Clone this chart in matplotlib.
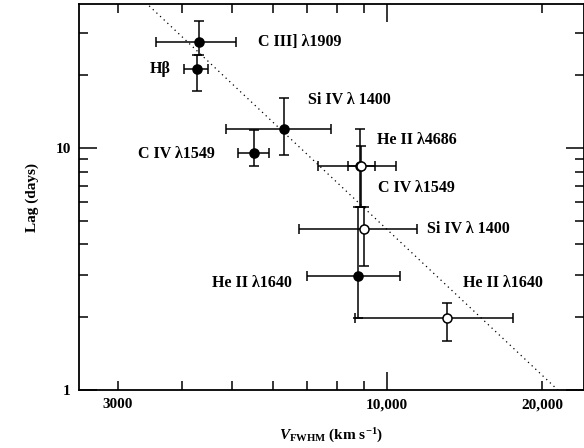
import matplotlib
matplotlib.use("Agg")
import matplotlib.pyplot as plt
from matplotlib.ticker import FixedLocator, NullFormatter, FixedFormatter

plt.rcParams['font.family'] = 'Liberation Serif'
plt.rcParams['font.weight'] = 'bold'
plt.rcParams['axes.labelweight'] = 'bold'
plt.rcParams['mathtext.fontset'] = 'custom'
plt.rcParams['mathtext.rm'] = 'Liberation Serif:bold'
plt.rcParams['mathtext.it'] = 'Liberation Serif:italic:bold'

# line name, FWHM velocity (km/s) and lag (days), with error bar ends
names = ["C III] λ1909", "Hβ", "Si IV λ1400", "C IV λ1549", "He II λ4686",
         "C IV λ1549", "Si IV λ1400", "He II λ1640", "He II λ1640"]
vel = [4314, 4261, 6313, 5516, 8870, 8906, 9025, 8790, 13090]
vel_lo = [3557, 4024, 4863, 5137, 7349, 8408, 6747, 6996, 8675]
vel_hi = [5094, 4478, 7790, 5902, 10390, 9487, 11400, 10578, 17565]
lag = [27.4, 21.2, 12.0, 9.53, 8.43, 8.43, 4.63, 2.96, 1.98]
lag_lo = [24.2, 17.2, 9.35, 8.43, 5.71, 5.71, 3.25, 1.98, 1.59]
lag_hi = [33.5, 24.2, 16.1, 11.9, 11.98, 10.2, 5.71, 5.71, 2.29]
is_open = [False, False, False, False, False, True, True, False, True]

# V^-2 reference line
line_v = [2500, 25000]
line_norm = 21450.0

fig = plt.figure(figsize=(5.84, 4.48), dpi=100)
ax = fig.add_axes([79 / 584, 1 - 390 / 448, 504.5 / 584, 386 / 448])

ax.plot(line_v, [(line_norm / v) ** 2 for v in line_v], color='black',
        linestyle=(0, (1, 3)), lw=0.9, zorder=1)

for i in range(len(vel)):
    xerr = [[vel[i] - vel_lo[i]], [vel_hi[i] - vel[i]]]
    yerr = [[lag[i] - lag_lo[i]], [lag_hi[i] - lag[i]]]
    face = 'white' if is_open[i] else 'black'
    ax.errorbar([vel[i]], [lag[i]], xerr=xerr, yerr=yerr, fmt='o', ms=6.5,
                mfc=face, mec='black', mew=1.1, ecolor='black', elinewidth=1.1,
                capsize=3.5, capthick=1.1, zorder=3 if is_open[i] else 2)

# labels placed next to the points
label_pos = [(258, 42), (150, 69), (308, 100), (138, 154), (377, 140),
             (378, 188), (427, 229), (212, 283), (463, 283)]
label_text = ["C III] λ1909", "Hβ", "Si IV λ 1400", "C IV λ1549", "He II λ4686",
              "C IV λ1549", "Si IV λ 1400", "He II λ1640", "He II λ1640"]
for (px, py), t in zip(label_pos, label_text):
    fig.text(px / 584, 1 - py / 448, t, fontsize=11.5, fontweight='bold',
             ha='left', va='center')

ax.set_xscale('log')
ax.set_yscale('log')
ax.set_xlim(2519, 24060)
ax.set_ylim(1, 39.4)

xmajor = [10000]
xminor = [3000, 4000, 5000, 6000, 7000, 8000, 9000, 20000]
ax.xaxis.set_major_locator(FixedLocator(xmajor))
ax.xaxis.set_major_formatter(FixedFormatter(["10,000"]))
ax.xaxis.set_minor_locator(FixedLocator(xminor))
ax.xaxis.set_minor_formatter(FixedFormatter(["3000", "", "", "", "", "", "", "20,000"]))

ax.yaxis.set_major_locator(FixedLocator([1, 10]))
ax.yaxis.set_major_formatter(FixedFormatter(["1", "10"]))
ax.yaxis.set_minor_locator(FixedLocator([2, 3, 4, 5, 6, 7, 8, 9, 20, 30]))
ax.yaxis.set_minor_formatter(NullFormatter())

ax.tick_params(which='both', direction='in', top=True, right=True,
               width=1.1, labelsize=11, pad=6)
ax.tick_params(which='major', length=13)
ax.tick_params(which='minor', length=6.5)
for s in ax.spines.values():
    s.set_linewidth(1.3)

ax.set_xlabel(r"$V_{\mathrm{FWHM}}$ (km s$^{-1}$)", fontsize=11, labelpad=11)
ax.set_ylabel("Lag (days)", fontsize=11, labelpad=12)

fig.savefig("out.png", dpi=100)
